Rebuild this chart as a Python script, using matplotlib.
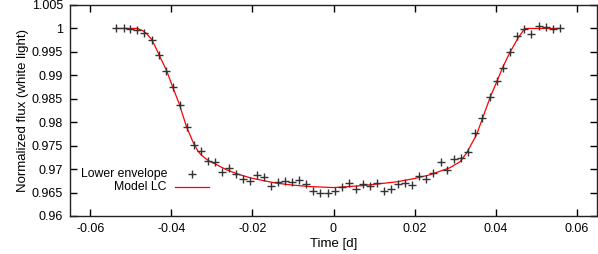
import matplotlib
matplotlib.use("Agg")
import matplotlib.pyplot as plt
import numpy as np

plt.rcParams['font.family'] = ['Liberation Sans', 'DejaVu Sans']

# Lower envelope data points
time_d = [-0.05375, -0.05178, -0.05012, -0.04840, -0.04677, -0.04486, -0.04306, -0.04133,
          -0.03960, -0.03795, -0.03615, -0.03442, -0.03269, -0.03086, -0.02923, -0.02751,
          -0.02578, -0.02405, -0.02232, -0.02059, -0.01886, -0.01714, -0.01531, -0.01358,
          -0.01185, -0.01012, -0.00840, -0.00667, -0.00494, -0.00321, -0.00148, 0.00025,
          0.00198, 0.00378, 0.00551, 0.00723, 0.00896, 0.01077, 0.01249, 0.01422,
          0.01595, 0.01768, 0.01941, 0.02106, 0.02286, 0.02459, 0.02642, 0.02805,
          0.02978, 0.03156, 0.03328, 0.03496, 0.03669, 0.03852, 0.04025, 0.04188,
          0.04360, 0.04533, 0.04706, 0.04879, 0.05062, 0.05242, 0.05415, 0.05588]
flux = [1.0000, 1.0000, 0.99985, 0.99964, 0.99893, 0.99756, 0.99435, 0.99092,
        0.98743, 0.98357, 0.97896, 0.97517, 0.97382, 0.97183, 0.97142, 0.96949,
        0.97018, 0.96900, 0.96797, 0.96754, 0.96874, 0.96829, 0.96639, 0.96735,
        0.96750, 0.96718, 0.96771, 0.96679, 0.96542, 0.96499, 0.96499, 0.96536,
        0.96628, 0.96714, 0.96585, 0.96686, 0.96643, 0.96701, 0.96529, 0.96585,
        0.96686, 0.96701, 0.96658, 0.96851, 0.96793, 0.96915, 0.97142, 0.96979,
        0.97206, 0.97228, 0.97371, 0.97772, 0.98085, 0.98528, 0.98871, 0.99165,
        0.99508, 0.99842, 0.99985, 0.99872, 1.00056, 1.00022, 0.99985, 1.00000]

# Model light curve
model_t = [-0.0537, -0.0483, -0.0470, -0.0461, -0.0449, -0.0439, -0.0429, -0.0412,
           -0.0396, -0.0380, -0.0363, -0.0347, -0.0335, -0.0328, -0.0318, -0.0308,
           -0.0288, -0.0264, -0.0231, -0.0202, -0.0170, -0.0141, -0.0100, -0.0059,
           0.0000, 0.0073, 0.0156, 0.0200, 0.0238, 0.0287, 0.0312, 0.0328,
           0.0353, 0.0386, 0.0419, 0.0435, 0.0456, 0.0472, 0.0559]
model_f = [1.0000, 1.0000, 0.99949, 0.99889, 0.99771, 0.99600, 0.99413, 0.99107,
           0.98736, 0.98378, 0.97913, 0.97586, 0.97393, 0.97318, 0.97243, 0.97178,
           0.97093, 0.96986, 0.96879, 0.96808, 0.96750, 0.96701, 0.96658, 0.96628,
           0.96606, 0.96649, 0.96729, 0.96800, 0.96879, 0.97029, 0.97157, 0.97340,
           0.97736, 0.98522, 0.99199, 0.99486, 0.99808, 1.0000, 1.0000]

xticks = [-0.06, -0.04, -0.02, 0, 0.02, 0.04, 0.06]
xtick_labels = ["-0.06", "-0.04", "-0.02", "0", "0.02", "0.04", "0.06"]
yticks = [0.96, 0.965, 0.97, 0.975, 0.98, 0.985, 0.99, 0.995, 1.0, 1.005]
ytick_labels = ["0.96", "0.965", "0.97", "0.975", "0.98", "0.985", "0.99", "0.995", "1", "1.005"]

fig = plt.figure(figsize=(5.98, 2.54), dpi=100)
ax = fig.add_axes([70/598, 1-216/254, (597-70)/598, (216-5)/254])

ax.plot(model_t, model_f, color='#ff0000', lw=0.9, zorder=2)
ax.plot(time_d, flux, ls='none', marker='+', ms=5.5, mew=1.0, color='#333333', zorder=3)

ax.set_xlim(-0.065, 0.065)
ax.set_ylim(0.96, 1.005)
ax.set_xticks(xticks)
ax.set_xticklabels(xtick_labels)
ax.set_yticks(yticks)
ax.set_yticklabels(ytick_labels)
ax.tick_params(direction='in', length=5, width=1, top=True, right=True, labelsize=9, pad=5)
for s in ax.spines.values():
    s.set_linewidth(1.0)
    s.set_color('#222222')

ax.set_xlabel("Time [d]", fontsize=9.5, labelpad=2)
ax.set_ylabel("Normalized flux (white light)", fontsize=9.5, labelpad=2)

# gnuplot-style key: right-aligned text with sample on right
ax.text((167-70)/527, (216-174)/211, "Lower envelope", transform=ax.transAxes,
        ha='right', va='center', fontsize=8.8)
ax.text((167-70)/527, (216-186.7)/211, "Model LC", transform=ax.transAxes,
        ha='right', va='center', fontsize=8.8)
ax.plot([(192-70)/527], [(216-174)/211], transform=ax.transAxes, marker='+', ms=5.5,
        mew=1.0, color='#333333', ls='none', clip_on=False)
ax.plot([(175-70)/527, (209-70)/527], [(216-186.7)/211]*2, transform=ax.transAxes,
        color='#ff0000', lw=0.9, clip_on=False)

fig.savefig("out.png", dpi=100)
